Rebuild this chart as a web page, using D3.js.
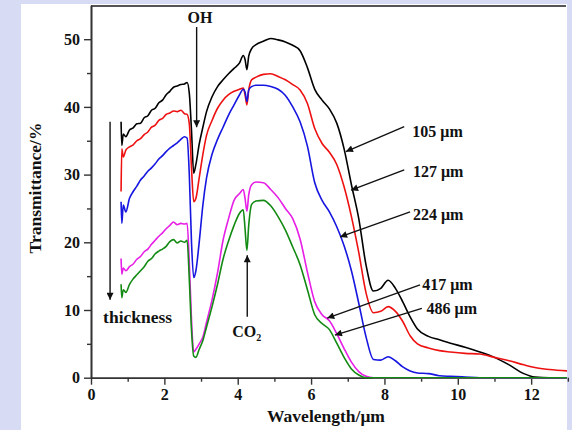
<!DOCTYPE html>
<html>
<head>
<meta charset="utf-8">
<script src="https://cdn.jsdelivr.net/npm/d3@7"></script>
<style>
  html, body { margin: 0; padding: 0; background: #d8dbf4; }
  svg { display: block; }
  text { font-family: "Liberation Serif", "Times New Roman", serif; font-weight: bold; fill: #111; }
</style>
</head>
<body>
<svg id="chart" width="572" height="430"></svg>
<script>
// Wavelength grid (µm) shared by all spectra
const wavelength = [
  0.82, 0.84, 0.88, 0.95, 1.05, 1.15, 1.25, 1.35, 1.45, 1.55, 1.65, 1.75, 1.85, 1.95, 2.05, 2.15, 2.25, 2.35, 2.45, 2.55, 2.62,
  2.68, 2.74, 2.8, 2.86, 2.95, 3.05, 3.15, 3.3, 3.45, 3.6, 3.75, 3.9, 4.05, 4.15, 4.2, 4.25, 4.3, 4.38,
  4.5, 4.7, 4.9, 5.1, 5.3, 5.5, 5.7, 5.9, 6.1, 6.3, 6.5, 6.7, 6.9, 7.1, 7.3, 7.5, 7.7, 7.9, 8.1, 8.3, 8.5, 8.7, 8.9,
  9.2, 9.5, 9.8, 10.2, 10.6, 11.0, 11.4, 11.8, 12.1, 12.5, 13.0
];

// Transmittance (%) for each sample thickness
const t105 = [
  37.8, 34.3, 36.0, 35.6, 36.6, 36.9, 37.5, 37.6, 38.4, 38.7, 39.5, 39.8, 40.6, 41.0, 41.8, 42.3, 42.9, 43.1, 43.3, 43.4, 43.6,
  42.0, 36.5, 30.2, 31.5, 34.5, 37.0, 39.3, 41.5, 43.0, 44.0, 44.9, 45.7, 46.5, 47.6, 47.0, 45.5, 47.5, 48.6,
  49.2, 49.7, 50.1, 49.9, 49.6, 49.1, 48.3, 45.8, 42.6, 41.0, 39.7, 37.6, 33.8, 28.5, 23.5, 16.6, 12.8, 13.2, 14.4, 13.2, 11.2, 9.0, 7.2,
  6.1, 5.6, 5.1, 4.5, 3.8, 3.0, 1.9, 0.6, 0.1, 0.0, 0.0
];
const t127 = [
  27.5, 33.8, 32.6, 33.6, 34.1, 34.4, 35.0, 35.3, 35.9, 36.3, 37.0, 37.3, 38.0, 38.3, 38.9, 39.1, 39.4, 39.3, 39.5, 39.0, 38.9,
  37.5, 31.0, 26.0, 26.5, 29.5, 33.0, 35.8, 38.0, 39.8, 41.0, 41.8, 42.3, 42.6, 42.8, 41.8, 40.3, 42.5, 44.0,
  44.4, 44.8, 44.9, 44.5, 44.0, 43.3, 42.5, 40.5, 36.8, 34.6, 33.3, 31.5, 28.2, 23.8, 18.5, 12.5, 9.6, 9.8, 10.5, 9.8, 8.3, 6.2, 5.0,
  4.4, 4.0, 3.8, 3.6, 3.5, 3.0, 2.5, 1.9, 1.5, 1.2, 1.0
];
const t224 = [
  26.0, 22.8, 25.5, 24.5, 26.5, 27.5, 28.3, 29.2, 29.8, 30.5, 31.0, 31.6, 32.3, 32.8, 33.4, 33.9, 34.3, 34.7, 35.2, 35.6, 35.4,
  30.0, 20.0, 14.8, 15.8, 20.0, 25.5, 29.5, 33.0, 35.2, 37.0, 38.8, 40.3, 41.8, 42.6, 42.2, 40.8, 42.5, 43.0,
  43.2, 43.2, 43.0, 42.6, 41.7, 40.0, 37.8, 34.2, 28.8, 26.2, 24.5, 22.3, 19.5, 15.8, 11.0, 6.0, 2.7, 2.6, 3.1, 2.5, 1.6, 1.0, 0.7,
  0.6, 0.3, 0.2, 0.1, 0.0, 0.0, 0.0, 0.0, 0.0, 0.0, 0.0
];
const t417 = [
  17.6, 15.3, 16.2, 15.8, 16.4, 16.8, 17.5, 17.9, 18.6, 19.0, 19.7, 20.3, 20.9, 21.4, 22.0, 22.5, 23.0, 22.6, 22.8, 22.7, 22.8,
  17.0, 8.5, 3.8, 4.2, 5.0, 6.0, 8.2, 11.5, 15.5, 20.3, 23.5, 26.2, 27.2, 27.8, 26.5, 24.6, 27.0, 28.5,
  28.9, 28.8, 27.8, 26.6, 25.0, 23.5, 20.5, 15.6, 11.2, 9.3, 8.4, 6.5, 4.3, 2.3, 0.9, 0.2, 0.0, 0.0, 0.0, 0.0, 0.0, 0.0, 0.0,
  0.0, 0.0, 0.0, 0.0, 0.0, 0.0, 0.0, 0.0, 0.0, 0.0, 0.0
];
const t486 = [
  13.8, 11.8, 13.0, 12.6, 13.8, 14.6, 15.2, 15.8, 16.4, 17.2, 17.6, 18.3, 18.7, 19.0, 19.4, 20.1, 20.4, 19.9, 20.2, 20.0, 20.3,
  14.5, 7.0, 3.2, 3.0, 4.2, 5.5, 7.5, 10.5, 13.8, 17.5, 20.2, 22.5, 24.3, 24.8, 22.0, 18.8, 22.5, 25.6,
  26.1, 26.2, 25.4, 23.8, 21.8, 19.3, 16.7, 13.0, 9.3, 8.0, 7.1, 5.1, 3.0, 1.3, 0.4, 0.0, 0.0, 0.0, 0.0, 0.0, 0.0, 0.0, 0.0,
  0.0, 0.0, 0.0, 0.0, 0.0, 0.0, 0.0, 0.0, 0.0, 0.0, 0.0
];

const seriesNames = ["105 \u03bcm", "127 \u03bcm", "224 \u03bcm", "417 \u03bcm", "486 \u03bcm"];
const seriesValues = [t105, t127, t224, t417, t486];
const seriesColors = ["#000000", "#ee1111", "#1616e0", "#e61ee6", "#138a13"];

// Thickness labels: text anchor, arrow tail and arrow tip in data units
const labelText = [8.76, 8.78, 8.78, 9.03, 9.15];
const labelTextT = [35.6, 29.7, 23.3, 13.0, 9.4];
const arrowTail = [[8.54, 37.1], [8.54, 30.7], [8.70, 24.5], [8.97, 13.7], [9.02, 10.25]];
const arrowTip = [[6.95, 33.4], [7.09, 27.7], [6.79, 20.8], [6.44, 8.8], [6.65, 6.3]];

const xTicks = [0, 2, 4, 6, 8, 10, 12];
const xMinorTicks = [1, 3, 5, 7, 9, 11, 13];
const yTicks = [0, 10, 20, 30, 40, 50];
const yMinorTicks = [5, 15, 25, 35, 45];

const svg = d3.select("#chart");

// white panel over the tinted page background
svg.append("rect").attr("x", 21).attr("y", 4).attr("width", 546).attr("height", 426).attr("fill", "#ffffff");

const x = d3.scaleLinear().domain([0, 12.95]).range([91, 566]);
const y = d3.scaleLinear().domain([0, 55]).range([377.7, 5.35]);

const defs = svg.append("defs");
defs.append("clipPath").attr("id", "plotClip")
  .append("rect").attr("x", 91).attr("y", 4).attr("width", 476).attr("height", 376);
defs.append("marker").attr("id", "head")
  .attr("viewBox", "0 0 10 10").attr("refX", 10).attr("refY", 5)
  .attr("markerWidth", 9).attr("markerHeight", 7).attr("markerUnits", "userSpaceOnUse")
  .attr("orient", "auto")
  .append("path").attr("d", "M0,0 L10,5 L0,10 Z").attr("fill", "#111");

// top frame line
svg.append("line")
  .attr("x1", x(0)).attr("x2", 566).attr("y1", 6).attr("y2", 6)
  .attr("stroke", "#555").attr("stroke-width", 2);

// axes
function styleAxis(g) {
  g.selectAll("path.domain").attr("stroke", "#333").attr("stroke-width", 1.6);
  g.selectAll(".tick line").attr("stroke", "#333").attr("stroke-width", 1.4);
  g.selectAll(".tick text")
    .attr("font-family", "'Liberation Serif', 'Times New Roman', serif")
    .attr("font-weight", "bold").attr("font-size", 16).attr("fill", "#111");
}

svg.append("g").attr("transform", `translate(${x(0)},0)`)
  .call(d3.axisLeft(y).tickValues(yTicks).tickSize(7).tickPadding(4).tickSizeOuter(0))
  .call(styleAxis);
svg.append("g").attr("transform", `translate(${x(0)},0)`)
  .call(d3.axisLeft(y).tickValues(yMinorTicks).tickSize(4).tickFormat("").tickSizeOuter(0))
  .call(styleAxis);

const xAxis = svg.append("g").attr("transform", `translate(0,${y(0)})`)
  .call(d3.axisBottom(x).tickValues(xTicks).tickSize(7).tickPadding(4).tickSizeOuter(0))
  .call(styleAxis);
svg.append("g").attr("transform", `translate(0,${y(0)})`)
  .call(d3.axisBottom(x).tickValues(xMinorTicks).tickSize(4).tickFormat("").tickSizeOuter(0))
  .call(styleAxis);
xAxis.selectAll(".tick text").attr("dy", "0.72em");

// axis titles
svg.append("text")
  .attr("x", 326).attr("y", 422).attr("text-anchor", "middle")
  .attr("font-size", 17.5).text("Wavelength/\u03bcm");
svg.append("text")
  .attr("transform", "translate(41,188) rotate(-90)")
  .attr("text-anchor", "middle").attr("font-size", 17.5).text("Transmittance/%");

// spectra
const line = d3.line()
  .x((d, i) => x(wavelength[i]))
  .y(d => y(d))
  .curve(d3.curveMonotoneX);

const plot = svg.append("g").attr("clip-path", "url(#plotClip)");
plot.selectAll("path.spectrum")
  .data(seriesValues)
  .join("path")
  .attr("class", "spectrum")
  .attr("d", line)
  .attr("fill", "none")
  .attr("stroke", (d, i) => seriesColors[i])
  .attr("stroke-width", 1.6)
  .attr("stroke-linejoin", "round");

// thickness labels with arrows
seriesNames.forEach((name, i) => {
  svg.append("line")
    .attr("x1", x(arrowTail[i][0])).attr("y1", y(arrowTail[i][1]))
    .attr("x2", x(arrowTip[i][0])).attr("y2", y(arrowTip[i][1]))
    .attr("stroke", "#111").attr("stroke-width", 1.4)
    .attr("marker-end", "url(#head)");
  svg.append("text")
    .attr("x", x(labelText[i])).attr("y", y(labelTextT[i]))
    .attr("font-size", 16).text(name);
});

// OH band marker
svg.append("text").attr("x", x(2.97)).attr("y", y(52.4))
  .attr("text-anchor", "middle").attr("font-size", 16).text("OH");
svg.append("line")
  .attr("x1", x(2.88)).attr("y1", y(51.8)).attr("x2", x(2.88)).attr("y2", y(37.0))
  .attr("stroke", "#111").attr("stroke-width", 1.4).attr("marker-end", "url(#head)");

// CO2 band marker
svg.append("line")
  .attr("x1", x(4.26)).attr("y1", y(9.0)).attr("x2", x(4.26)).attr("y2", y(18.1))
  .attr("stroke", "#111").attr("stroke-width", 1.4).attr("marker-end", "url(#head)");
const co2 = svg.append("text").attr("x", x(3.85)).attr("y", y(6.0)).attr("font-size", 16);
co2.append("tspan").text("CO");
co2.append("tspan").attr("font-size", 10).attr("dy", 4).text("2");

// thickness direction arrow
svg.append("line")
  .attr("x1", x(0.52)).attr("y1", y(37.8)).attr("x2", x(0.52)).attr("y2", y(11.5))
  .attr("stroke", "#111").attr("stroke-width", 1.4).attr("marker-end", "url(#head)");
svg.append("text").attr("x", x(0.33)).attr("y", y(8.1))
  .attr("font-size", 17.5).text("thickness");
</script>
</body>
</html>
